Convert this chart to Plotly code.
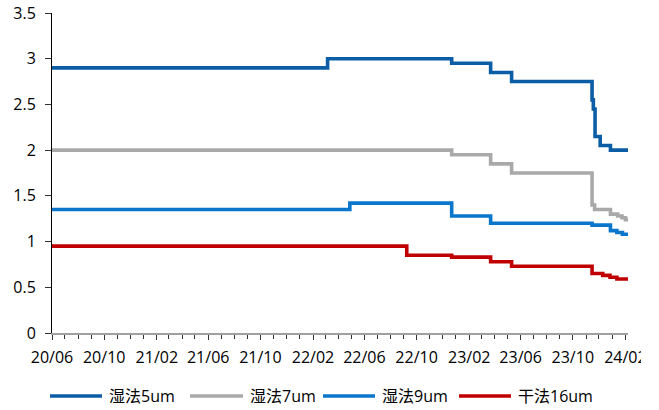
import plotly.graph_objects as go

# Separator prices (元/平米) at each change date; held constant between dates
dates_wet5 = ["2020-06-01", "2022-03-07", "2022-12-22", "2023-03-23", "2023-05-11",
              "2023-11-15", "2023-11-18", "2023-11-22", "2023-12-04", "2023-12-28", "2024-02-07"]
wet5 = [2.90, 3.00, 2.95, 2.85, 2.75, 2.55, 2.45, 2.15, 2.05, 2.00, 2.00]

dates_wet7 = ["2020-06-01", "2022-12-22", "2023-03-23", "2023-05-11", "2023-11-15",
              "2023-11-21", "2023-12-28", "2024-01-14", "2024-01-24", "2024-02-01", "2024-02-07"]
wet7 = [2.00, 1.95, 1.85, 1.75, 1.40, 1.35, 1.30, 1.28, 1.26, 1.24, 1.23]

dates_wet9 = ["2020-06-01", "2022-04-28", "2022-12-22", "2023-03-23", "2023-11-15",
              "2023-12-28", "2024-01-12", "2024-01-25", "2024-02-07"]
wet9 = [1.35, 1.42, 1.28, 1.20, 1.18, 1.12, 1.10, 1.08, 1.06]

dates_dry16 = ["2020-06-01", "2022-09-08", "2022-12-22", "2023-03-23", "2023-05-11",
               "2023-11-15", "2023-12-10", "2023-12-27", "2024-01-12", "2024-02-07"]
dry16 = [0.95, 0.85, 0.83, 0.78, 0.73, 0.65, 0.63, 0.61, 0.59, 0.58]

series_names = ["湿法5um", "湿法7um", "湿法9um", "干法16um"]
series_colors = ["#0B5DA5", "#A9A9A9", "#0A76CC", "#C00000"]
series_dates = [dates_wet5, dates_wet7, dates_wet9, dates_dry16]
series_values = [wet5, wet7, wet9, dry16]

x_start, x_end = "2020-06-01", "2024-02-07"
y_ticks = [0, 0.5, 1, 1.5, 2, 2.5, 3, 3.5]

FONT = "Open Sans, Noto Sans CJK SC, sans-serif"
W, H = 659, 410
ML, MR, MT, MB = 52, 31, 13, 77
LINE_W = 3.6

fig = go.Figure()
for name, color, xs, ys in zip(series_names, series_colors, series_dates, series_values):
    fig.add_trace(go.Scatter(
        x=xs, y=ys, name=name, mode="lines",
        line=dict(color=color, width=LINE_W, shape="hv"),
        showlegend=False,
    ))

fig.update_layout(
    width=W, height=H,
    margin=dict(l=ML, r=MR, t=MT, b=MB),
    paper_bgcolor="white", plot_bgcolor="white",
    font=dict(family=FONT, size=16, color="#000000"),
)

fig.update_xaxes(
    type="date", range=[x_start, x_end], automargin=False,
    tick0="2020-06-01", dtick="M4", tickformat="%y/%m",
    ticks="outside", ticklen=5, tickcolor="#333333", tickwidth=1,
    minor=dict(dtick="M1", ticks="outside", ticklen=4, tickcolor="#333333", tickwidth=1),
    showline=True, linecolor="#A0A0A0", linewidth=1.5,
    showgrid=False, zeroline=False,
    ticklabelstandoff=4,
    tickfont=dict(size=16, family=FONT, color="#000000"),
)
fig.update_yaxes(
    range=[0, 3.5], tickvals=y_ticks, automargin=False,
    ticks="outside", ticklen=6, tickcolor="#333333",
    showline=True, linecolor="#000000", linewidth=1,
    showgrid=False, zeroline=False,
    ticklabelstandoff=6,
    tickfont=dict(size=16, family=FONT, color="#000000"),
)

# Legend drawn below the plot: a line sample followed by its label
plot_w = W - ML - MR
plot_h = H - MT - MB

def px_x(px):
    return (px - ML) / plot_w

def px_y(py):
    return (H - MB - py) / plot_h

legend_lines = [(50, 102), (190, 243), (323, 375), (459, 511)]
legend_y = 396
for (x0, x1), name, color in zip(legend_lines, series_names, series_colors):
    fig.add_shape(type="line", xref="paper", yref="paper",
                  x0=px_x(x0), x1=px_x(x1), y0=px_y(legend_y), y1=px_y(legend_y),
                  line=dict(color=color, width=LINE_W))
    fig.add_annotation(xref="paper", yref="paper", x=px_x(x1 + 5), y=px_y(legend_y),
                       xanchor="left", yanchor="middle", text=name, showarrow=False,
                       font=dict(size=16, family=FONT, color="#000000"))

# Right edge of the canvas trims the last date label
fig.add_shape(type="rect", xref="paper", yref="paper", layer="above",
              x0=px_x(641), x1=px_x(W + 5), y0=px_y(370), y1=px_y(338),
              fillcolor="white", line=dict(width=0))

fig.write_html("out.html")
